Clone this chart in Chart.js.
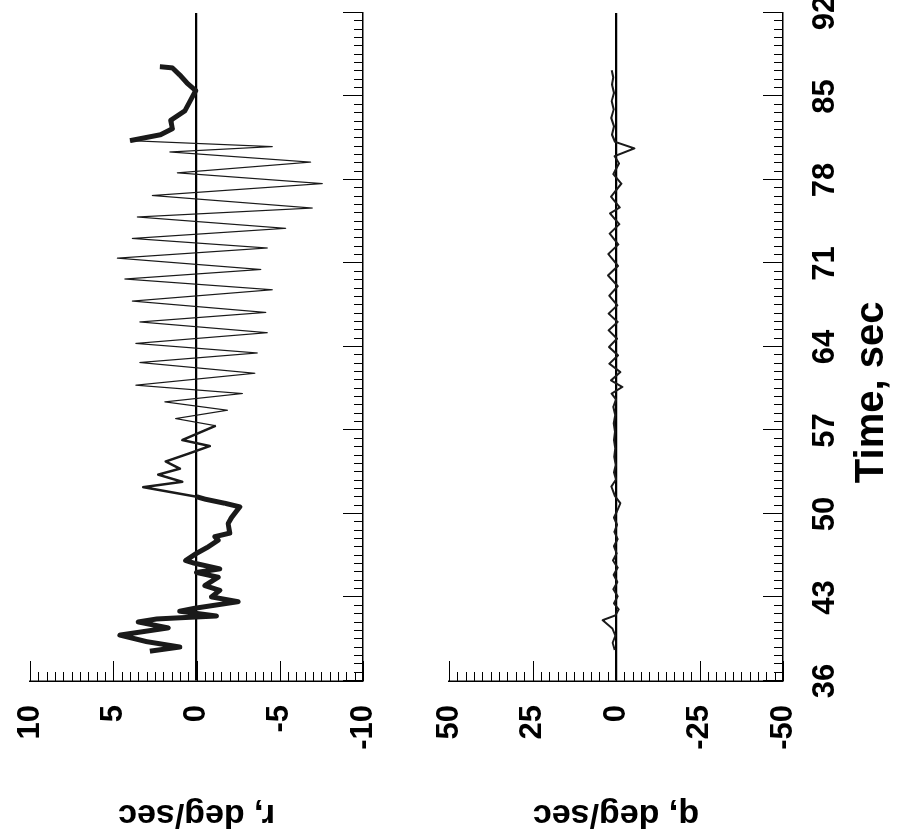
<!DOCTYPE html>
<html>
<head>
<meta charset="utf-8">
<script src="https://cdn.jsdelivr.net/npm/chart.js@4.4.0/dist/chart.umd.min.js"></script>
<style>
  html, body { margin: 0; padding: 0; background: #fff; overflow: hidden; }
  /* the original figure is printed sideways: draw it upright, then turn the page */
  #page { position: absolute; left: 0; top: 0; width: 835px; height: 899px;
          transform-origin: 0 0; transform: translateY(835px) rotate(-90deg); }
  canvas { display: block; }
</style>
</head>
<body>
<div id="page">
  <canvas id="rChart" width="835" height="405"></canvas>
  <canvas id="qChart" width="835" height="494"></canvas>
</div>
<script>
const timeLabels = [36, 43, 50, 57, 64, 71, 78, 85, 92];
const rTicks = [10, 5, 0, -5, -10];
const qTicks = [50, 25, 0, -25, -50];

// yaw rate r, deg/sec
const rTime = [38.5, 38.85, 39.3, 39.85, 40.45, 40.95, 41.2, 41.3, 41.45, 41.85, 42.1, 42.65, 43.05, 43.6, 44.0,
  44.7, 45.1, 45.4, 45.9, 46.1, 46.7, 47.2, 47.8, 48.1, 48.4, 49.2, 49.7, 50.6, 50.9, 51.25, 51.45, 52.25,
  52.7, 53.3, 53.8, 54.4, 55.1, 55.7, 56.2, 57.4, 58.0, 58.7, 59.4, 60.1, 60.8, 61.8, 62.7, 63.5, 64.3,
  65.2, 66.1, 66.9, 67.85, 68.8, 69.7, 70.5, 71.45, 72.3, 73.1, 73.95, 74.9, 75.65, 76.7, 77.7, 78.6,
  79.5, 80.35, 80.8, 81.3, 81.8, 82.3, 83.0, 83.8, 84.7, 85.5, 86.1, 86.8, 87.4, 87.5];
const rValues = [2.8, 1.0, 3.0, 4.6, 1.7, 3.5, 2.4, 1.0, -1.2, 1.0, 0.1, -2.5, -0.9, -1.4, -0.5,
  -1.3, 0.0, -1.4, 0.2, 0.65, 0.0, -0.65, -1.3, -1.1, -2.0, -1.9, -2.1, -2.6, -1.7, -0.5, 0.0, 3.2,
  0.85, 2.3, 1.0, 1.85, 0.4, -0.8, 0.85, -1.15, 1.25, -1.85, 1.9, -2.75, 3.65, -3.5, 3.4, -3.65, 3.65,
  -4.25, 3.4, -4.15, 3.85, -4.55, 4.3, -3.85, 4.75, -4.25, 3.85, -5.35, 3.55, -6.95, 2.65, -7.55, 1.15,
  -6.85, 1.6, -4.55, 4.0, 2.15, 1.45, 1.55, 0.7, 0.35, 0.05, 0.55, 1.0, 1.45, 2.2];

// pitch rate q, deg/sec
const qTime = [38.6, 39.2, 39.8, 40.4, 41.1, 41.5, 42.0, 42.5, 43.1, 43.7, 44.3, 44.9, 45.5, 46.1, 46.7,
  47.3, 47.9, 48.5, 49.1, 49.7, 50.3, 50.9, 51.5, 52.3, 52.9, 53.5, 54.1, 54.8, 55.5, 56.2, 56.9, 57.6,
  58.3, 59.0, 59.6, 60.1, 60.65, 61.2, 61.9, 62.6, 63.3, 64.0, 64.7, 65.4, 66.1, 66.8, 67.5, 68.3, 69.1,
  70.0, 70.8, 71.8, 72.6, 73.5, 74.3, 75.2, 75.7, 76.6, 77.7, 78.5, 79.4, 80.0, 80.65, 81.2, 81.8, 82.5,
  83.2, 83.9, 84.6, 85.3, 86.0, 86.6, 87.2];
const qValues = [0.4, 1.0, 0.2, 1.1, 4.0, 0.2, -0.8, 0.6, -0.5, 0.8, -0.4, 0.7, -0.5, 0.9, -0.2,
  0.6, -0.5, 0.5, -0.3, 0.6, -0.4, -1.3, 0.3, 1.4, 0.0, 0.6, 0.1, 0.5, 0.2, 0.6, 0.3, 0.7,
  0.2, 0.8, 0.0, 1.3, -1.9, 1.5, -1.3, 2.0, -0.6, 2.1, -0.3, 2.2, -0.5, 2.2, -0.4, 2.0, -0.5,
  2.4, -0.6, 2.3, -0.7, 1.9, -1.0, 1.8, -1.1, 1.5, -1.6, 0.8, -0.9, 0.4, -5.5, 0.3, 1.2, 0.6,
  1.4, 0.7, 1.3, 0.6, 1.2, 0.8, 1.3];

const FONT = '"Liberation Sans", Arial, Helvetica, sans-serif';
Chart.defaults.color = '#000';
Chart.defaults.font.family = FONT;
Chart.defaults.font.weight = 'bold';

// 10 minor steps between labelled ticks
function minorTicks(labels) {
  const out = [];
  for (let i = 0; i < labels.length - 1; i++) {
    const a = labels[i], b = labels[i + 1];
    for (let k = 0; k < 10; k++) out.push({ value: a + (b - a) * k / 10, major: k === 0 });
  }
  out.push({ value: labels[labels.length - 1], major: true });
  return out;
}

// tick marks point into the plot, long at labelled values
const inwardTicks = {
  id: 'inwardTicks',
  afterDraw(chart) {
    const { ctx, chartArea: a, scales: { x, y } } = chart;
    ctx.save();
    ctx.strokeStyle = '#000';
    ctx.lineWidth = 1;
    ctx.beginPath();
    x.ticks.forEach(t => {
      const px = Math.round(x.getPixelForValue(t.value)) + 0.5;
      ctx.moveTo(px, a.bottom);
      ctx.lineTo(px, a.bottom - (t.major ? 20 : 9));
    });
    y.ticks.forEach(t => {
      const py = Math.round(y.getPixelForValue(t.value)) + 0.5;
      ctx.moveTo(a.left, py);
      ctx.lineTo(a.left + (t.major ? 20 : 9), py);
    });
    ctx.stroke();
    ctx.restore();
  }
};

// the time title sits a little off the axis centre in the original
const timeTitle = {
  id: 'timeTitle',
  afterDraw(chart, args, opts) {
    const { ctx, scales: { x } } = chart;
    ctx.save();
    ctx.font = 'bold 40px ' + FONT;
    ctx.fillStyle = '#000';
    ctx.textAlign = 'center';
    ctx.textBaseline = 'middle';
    ctx.fillText(opts.text, x.getPixelForValue(opts.at), x.bottom - 27);
    ctx.restore();
  }
};

function traceWidth(ctx) {
  const t = ctx.p0.parsed.x;
  if (t < 51.4 || t >= 81.3) return 5;
  if (t < 57.4) return 2.5;
  return 1.2;
}

function makeChart(id, times, values, yLabels, yTitle, showTime, padding, xHeight, lineWidth) {
  return new Chart(document.getElementById(id), {
    type: 'line',
    data: {
      datasets: [{
        data: times.map((t, i) => ({ x: t, y: values[i] })),
        borderColor: '#1a1a1a',
        borderWidth: 2,
        borderJoinStyle: 'round',
        pointRadius: 0,
        tension: 0,
        segment: { borderWidth: lineWidth }
      }]
    },
    options: {
      responsive: false,
      animation: false,
      devicePixelRatio: 1,
      layout: { padding: padding },
      plugins: {
        legend: { display: false },
        tooltip: { enabled: false },
        timeTitle: { text: 'Time, sec', at: 60.2 }
      },
      scales: {
        x: {
          type: 'linear',
          min: timeLabels[0],
          max: timeLabels[timeLabels.length - 1],
          afterBuildTicks: s => { s.ticks = minorTicks(timeLabels); },
          afterFit: s => { s.height = xHeight; s.paddingLeft = 0; s.paddingRight = 0; },
          grid: { display: false, drawTicks: false },
          border: { display: true, color: '#000', width: 1.5 },
          ticks: {
            display: showTime,
            autoSkip: false,
            maxRotation: 0,
            padding: 24,
            font: { size: 31, weight: 'bold' },
            callback: (v, i, ticks) => ticks[i].major ? String(Math.round(v)) : ''
          }
        },
        y: {
          type: 'linear',
          min: yLabels[yLabels.length - 1],
          max: yLabels[0],
          afterBuildTicks: s => { s.ticks = minorTicks(yLabels); },
          afterFit: s => { s.width = 154; s.paddingTop = 0; s.paddingBottom = 0; },
          grid: {
            drawTicks: false,
            color: c => c.tick && c.tick.value === 0 ? '#000' : 'rgba(0,0,0,0)',
            lineWidth: c => c.tick && c.tick.value === 0 ? 2.2 : 0
          },
          border: { display: true, color: '#000', width: 1.5 },
          ticks: {
            autoSkip: false,
            padding: 24,
            font: { size: 31, weight: 'bold' },
            callback: (v, i, ticks) => ticks[i].major ? String(v) : ''
          },
          title: {
            display: true,
            text: yTitle,
            font: { size: 34, weight: 'bold' },
            padding: 0
          }
        }
      }
    },
    plugins: showTime ? [inwardTicks, timeTitle] : [inwardTicks]
  });
}

makeChart('rChart', rTime, rValues, rTicks, 'r, deg/sec', false,
  { top: 30, right: 13, bottom: 42, left: 0 }, 0, traceWidth);
makeChart('qChart', qTime, qValues, qTicks, 'q, deg/sec', true,
  { top: 44, right: 13, bottom: 0, left: 0 }, 116, () => 2);
</script>
</body>
</html>
